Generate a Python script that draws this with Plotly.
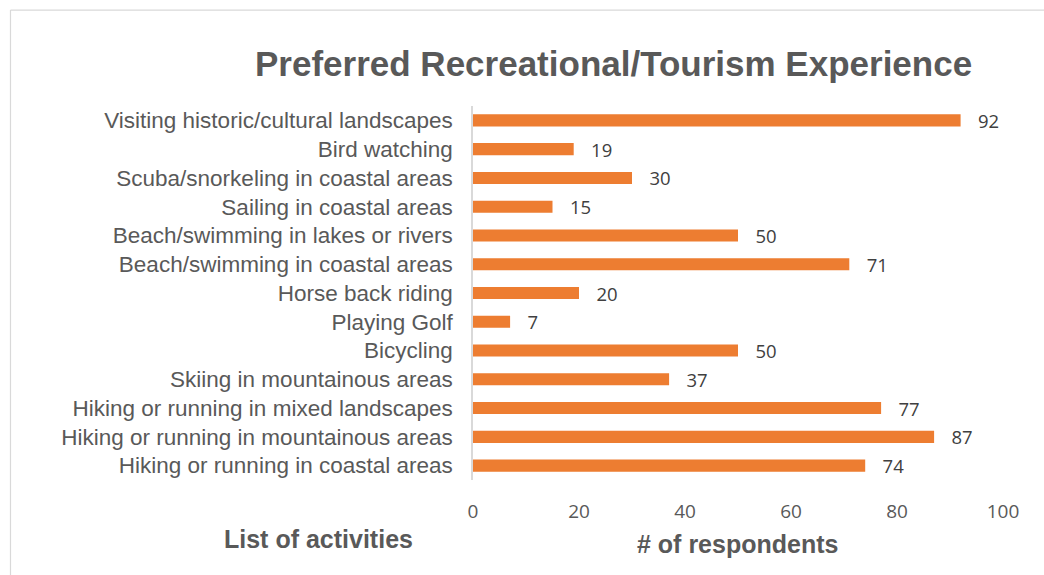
import plotly.graph_objects as go

activities = [
    "Visiting historic/cultural landscapes",
    "Bird watching",
    "Scuba/snorkeling in coastal areas",
    "Sailing in coastal areas",
    "Beach/swimming in lakes or rivers",
    "Beach/swimming in coastal areas",
    "Horse back riding",
    "Playing Golf",
    "Bicycling",
    "Skiing in mountainous areas",
    "Hiking or running in mixed landscapes",
    "Hiking or running in mountainous areas",
    "Hiking or running in coastal areas",
]
respondents = [92, 19, 30, 15, 50, 71, 20, 7, 50, 37, 77, 87, 74]
x_ticks = [0, 20, 40, 60, 80, 100]

W, H = 1044, 575
L, R, T, B = 473, 41, 105.6, 94.6
pw, ph = W - L - R, H - T - B

def px(x):
    return (x - L) / pw

def py(y):
    return (H - B - y) / ph

fig = go.Figure(go.Bar(
    x=respondents,
    y=activities,
    orientation="h",
    marker=dict(color="#ED7D31", line=dict(width=0)),
    text=respondents,
    texttemplate="\u00a0\u00a0\u00a0%{x}",
    textposition="outside",
    constraintext="none",
    cliponaxis=False,
    textfont=dict(family="Open Sans", size=18.5, color="#404040"),
))

fig.update_layout(
    width=W, height=H,
    margin=dict(l=L, r=R, t=T, b=B, autoexpand=False),
    paper_bgcolor="white", plot_bgcolor="white",
    bargap=0.58,
    showlegend=False,
    xaxis=dict(
        range=[0, 100], tickvals=x_ticks, showgrid=False, zeroline=False,
        showline=False, ticks="", ticklabelstandoff=18,
        tickfont=dict(family="Open Sans", size=19, color="#595959"),
    ),
    yaxis=dict(
        autorange="reversed", showgrid=False, zeroline=False,
        showline=True, linecolor="#D9D9D9", linewidth=1.5,
        ticks="", ticklabelstandoff=14,
        tickfont=dict(family="Liberation Sans", size=22.5, color="#595959"),
    ),
    annotations=[
        dict(text="<b>Preferred Recreational/Tourism Experience</b>",
             xref="paper", yref="paper", x=px(613.5), y=py(63),
             xanchor="center", yanchor="middle", showarrow=False,
             font=dict(family="Liberation Sans", size=35, color="#595959")),
        dict(text="<b>List of activities</b>",
             xref="paper", yref="paper", x=px(318.5), y=py(540),
             xanchor="center", yanchor="middle", showarrow=False,
             font=dict(family="Liberation Sans", size=25, color="#595959")),
        dict(text="<b># of respondents</b>",
             xref="paper", yref="paper", x=px(737), y=py(545),
             xanchor="center", yanchor="middle", showarrow=False,
             font=dict(family="Liberation Sans", size=25, color="#595959")),
    ],
    shapes=[
        dict(type="line", xref="paper", yref="paper",
             x0=px(10.5), x1=px(W + 5), y0=py(9.5), y1=py(9.5),
             line=dict(color="#D9D9D9", width=1.2)),
        dict(type="line", xref="paper", yref="paper",
             x0=px(10.5), x1=px(10.5), y0=py(9.5), y1=py(H + 5),
             line=dict(color="#D9D9D9", width=1.2)),
    ],
)

fig.write_html(
    "out.html",
    config={"displayModeBar": False},
    post_script="document.body.style.margin='0';document.body.style.overflow='hidden';",
)
